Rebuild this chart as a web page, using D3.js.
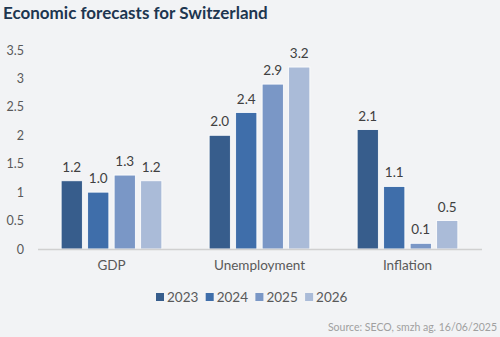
<!DOCTYPE html>
<html><head><meta charset="utf-8">
<script src="https://cdn.jsdelivr.net/npm/d3@7"></script>
<style>
html,body{margin:0;padding:0;background:#f2f3f5;}
svg{display:block;font-family:"Lato","Open Sans",sans-serif;}
</style></head>
<body>
<script>
const categories = ["GDP", "Unemployment", "Inflation"];
const years = ["2023", "2024", "2025", "2026"];
const gdp = [1.2, 1.0, 1.3, 1.2];
const unemployment = [2.0, 2.4, 2.9, 3.2];
const inflation = [2.1, 1.1, 0.1, 0.5];
const yTicks = [0, 0.5, 1, 1.5, 2, 2.5, 3, 3.5];
const colors = ["#375d8c", "#3f6eaa", "#7a97c6", "#aabbd8"];
const seriesByCat = [gdp, unemployment, inflation];

const W = 500, H = 337;
const svg = d3.select("body").append("svg").attr("width", W).attr("height", H);
svg.append("rect").attr("width", W).attr("height", H).attr("fill", "#f2f3f5");

svg.append("text").attr("x", 3).attr("y", 19)
  .attr("font-size", 17).attr("font-weight", "bold").attr("fill", "#1d3650")
  .text("Economic forecasts for Switzerland");

const x0 = d3.scaleBand().domain(categories).range([37.5, 481.5]).paddingInner(0).paddingOuter(0);
const x1 = d3.scaleBand().domain(years).range([0, 106]).paddingInner(0.2).paddingOuter(0.1);
const y = d3.scaleLinear().domain([0, 3.5]).range([249, 50]);

// y tick labels
const yAxis = d3.axisLeft(y).tickValues(yTicks).tickSize(0).tickPadding(0)
  .tickFormat(d => d3.format("")(d));
const yg = svg.append("g").attr("transform", "translate(24,0)").call(yAxis);
yg.select(".domain").remove();
yg.selectAll("text").attr("font-size", 12.5).attr("fill", "#595959").attr("font-family", "Lato, 'Open Sans', sans-serif");

// bars
const groups = svg.selectAll("g.cat").data(categories).join("g")
  .attr("class", "cat")
  .attr("transform", d => `translate(${x0(d) + x0.bandwidth()/2 - 53},0)`);

groups.each(function(cat, ci) {
  const g = d3.select(this);
  const vals = seriesByCat[ci];
  g.selectAll("rect").data(years).join("rect")
    .attr("x", d => x1(d))
    .attr("y", (d, i) => y(vals[i]))
    .attr("width", x1.bandwidth())
    .attr("height", (d, i) => y(0) - y(vals[i]))
    .attr("fill", (d, i) => colors[i])
    .attr("stroke", "#ffffff").attr("stroke-width", 0.8);
  g.selectAll("text.val").data(years).join("text")
    .attr("class", "val")
    .attr("x", d => x1(d) + x1.bandwidth()/2)
    .attr("y", (d, i) => y(vals[i]) - 9)
    .attr("text-anchor", "middle").attr("font-size", 13.5).attr("fill", "#404040")
    .text((d, i) => d3.format(".1f")(vals[i]));
});

// x axis
const xAxis = d3.axisBottom(x0).tickSize(0).tickPadding(11);
const xg = svg.append("g").attr("transform", `translate(0,${y(0)})`).call(xAxis);
xg.select(".domain").attr("stroke", "#d0d0d0").attr("stroke-width", 1.5);
xg.selectAll("text").attr("font-size", 13.5).attr("fill", "#595959").attr("font-family", "Lato, 'Open Sans', sans-serif");

// legend
const leg = svg.append("g").attr("transform", "translate(156,297)");
const li = leg.selectAll("g").data(years).join("g").attr("transform", (d, i) => `translate(${i*49.7},0)`);
li.append("rect").attr("x", 0).attr("y", -4).attr("width", 8).attr("height", 8).attr("fill", (d, i) => colors[i]);
li.append("text").attr("x", 11).attr("y", 4.8).attr("font-size", 13.5).attr("fill", "#595959").text(d => d);

svg.append("text").attr("x", 497).attr("y", 331).attr("text-anchor", "end")
  .attr("font-size", 10.5).attr("fill", "#a0a0a0").text("Source: SECO, smzh ag. 16/06/2025");
</script>
</body></html>
